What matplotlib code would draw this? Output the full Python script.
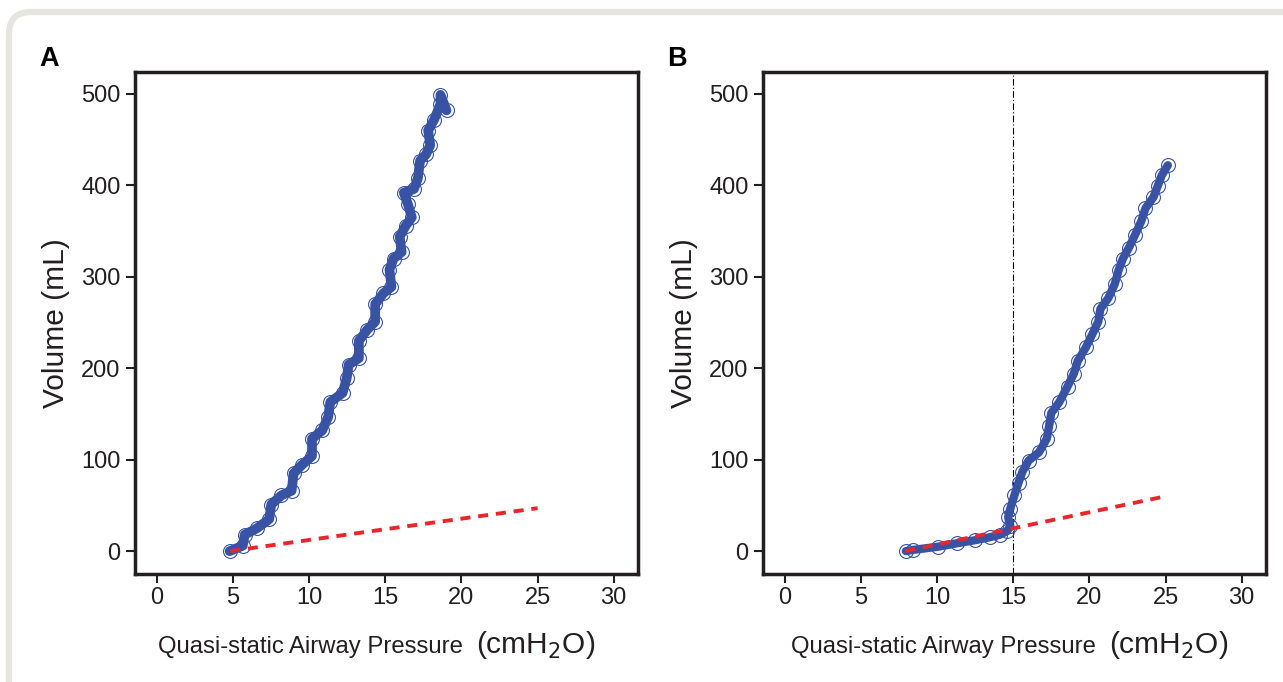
import matplotlib.pyplot as plt
from matplotlib.patches import FancyBboxPatch

plt.rcParams['font.family'] = ['Liberation Sans', 'DejaVu Sans']

# Panel A: quasi-static P-V trace (pressure cmH2O, volume mL)
pA = [4.77, 5.63, 5.76, 6.56, 7.37, 7.5, 8.17, 8.84, 8.97, 9.5, 10.18, 10.18,
      10.85, 11.25, 11.38, 12.19, 12.46, 12.59, 13.26, 13.26, 13.8, 14.33, 14.33,
      14.87, 15.4, 15.27, 15.54, 16.07, 15.94, 16.34, 16.74, 16.47, 16.21, 16.88,
      17.14, 17.28, 17.68, 17.95, 17.81, 18.21, 18.62, 18.62, 19.02]
vA = [0, 6, 18, 25, 35, 51, 61, 66, 85, 94, 104, 123,
      132, 147, 163, 173, 189, 204, 211, 230, 242, 251, 270,
      282, 289, 308, 320, 327, 344, 356, 365, 380, 392, 396,
      408, 427, 434, 444, 460, 472, 489, 499, 482]
fitA_p = [4.8, 15, 25]
fitA_v = [0, 24, 47]

# Panel B
pB = [7.94, 8.42, 10.03, 11.3, 12.46, 13.45, 14.12, 14.6, 14.8, 14.66, 14.8,
      15.07, 15.34, 15.6, 16.0, 16.68, 17.2, 17.35, 17.49, 18.02, 18.56, 18.97,
      19.23, 19.77, 20.18, 20.58, 20.72, 21.25, 21.66, 21.93, 22.2, 22.6, 23.0,
      23.41, 23.68, 24.2, 24.48, 24.75, 25.15]
vB = [0, 1.4, 4.8, 8.6, 11.9, 15.2, 18, 22, 27.6, 37, 46.6,
      61, 75, 87, 99, 108, 123, 137, 151, 163, 180, 194,
      208, 223, 237, 251, 265, 277, 292, 308, 320, 332, 346,
      361, 375, 387, 399, 411, 422]
fitB_p = [7.9, 15, 25]
fitB_v = [0, 25, 60]
knee_B = 15

xticks = [0, 5, 10, 15, 20, 25, 30]
yticks = [0, 100, 200, 300, 400, 500]

blue = '#3953a4'
red = '#e8262c'
ink = '#231f20'

fig = plt.figure(figsize=(12.83, 6.82), dpi=100)

# light card border behind the panels
card = FancyBboxPatch((9, -60), 1330, 730, boxstyle='round,pad=0,rounding_size=22',
                      transform=None, facecolor='white', edgecolor='#e6e4df',
                      linewidth=4.5, zorder=-10)
fig.patches.append(card)

axA = fig.add_axes([135 / 1283, 108 / 682, 503 / 1283, 502 / 682])
axB = fig.add_axes([763 / 1283, 108 / 682, 503 / 1283, 502 / 682])

panels = [(axA, pA, vA, fitA_p, fitA_v, 'A', 0.646, 0.678, 7),
          (axB, pB, vB, fitB_p, fitB_v, 'B', 0.656, 0.688, 6)]

for ax, p, v, fp, fv, tag, x1, x2, lw in panels:
    ax.patch.set_alpha(0)
    ax.plot(p, v, color=blue, lw=lw, solid_capstyle='round', zorder=2)
    ax.plot(p, v, 'o', mfc='none', mec=blue, ms=10, mew=0.8, zorder=3)
    ax.plot(fp, fv, color=red, lw=2.8, dashes=(2.6, 2.0), zorder=4)

    ax.set_xlim(-1.45, 31.6)
    ax.set_ylim(-25, 524)
    ax.set_xticks(xticks)
    ax.set_yticks(yticks)
    ax.tick_params(direction='out', length=6.5, width=1.5, color=ink,
                   labelsize=17, labelcolor=ink)
    ax.tick_params(axis='x', pad=3)
    ax.tick_params(axis='y', pad=4)
    for s in ax.spines.values():
        s.set_linewidth(2.5)
        s.set_color(ink)

    ax.set_ylabel('Volume (mL)', fontsize=21.5, color=ink, labelpad=8)
    ax.text(x1 + 0.006, -0.157, 'Quasi-static Airway Pressure', transform=ax.transAxes,
            ha='right', va='baseline', fontsize=17.2, color=ink)
    ax.text(x2, -0.157, '(cmH$_2$O)', transform=ax.transAxes,
            ha='left', va='baseline', fontsize=21.5, color=ink)
    ax.text(-0.19, 1.0, tag, transform=ax.transAxes, ha='left', va='bottom',
            fontsize=19.5, fontweight='bold', color='black')

axB.axvline(knee_B, color='black', lw=0.8, dashes=(6, 2, 1, 2), zorder=1)

plt.savefig('out.png', dpi=100)
